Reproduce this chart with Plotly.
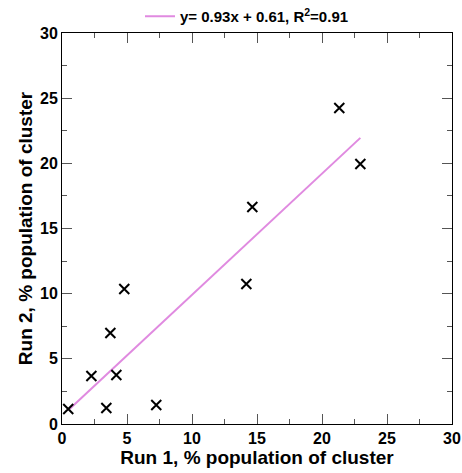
import plotly.graph_objects as go

run1 = [0.48, 2.26, 3.41, 3.72, 4.18, 4.79, 7.25, 14.18, 14.64, 21.33, 22.95]
run2 = [1.15, 3.68, 1.23, 6.98, 3.76, 10.36, 1.46, 10.74, 16.65, 24.25, 19.95]
slope, intercept = 0.93, 0.61
fit_label = "y= 0.93x + 0.61, R<sup>2</sup>=0.91"

fit_x = [min(run1), max(run1)]
fit_y = [slope * v + intercept for v in fit_x]

font = "Liberation Sans, Arial, Helvetica, sans-serif"

fig = go.Figure()
fig.add_trace(go.Scatter(x=fit_x, y=fit_y, mode="lines", name="<b>" + fit_label + "</b>",
                         line=dict(color="#e08ae0", width=2), showlegend=True))
fig.add_trace(go.Scatter(x=run1, y=run2, mode="markers", showlegend=False,
                         marker=dict(symbol="x-thin-open", size=10, color="black",
                                     line=dict(color="black", width=2))))

axis_common = dict(range=[0, 30], dtick=5, ticks="inside", ticklen=10, tickwidth=1,
                   tickcolor="#555", showline=True, linecolor="black", linewidth=1,
                   mirror="ticks", showgrid=False, zeroline=False, automargin=False,
                   tickprefix="<b>", ticksuffix="</b>",
                   tickfont=dict(family=font, size=16, color="black"),
                   minor=dict(dtick=2.5, ticks="inside", ticklen=5, tickcolor="#555", showgrid=False))

fig.update_layout(
    width=462, height=473,
    margin=dict(l=62, r=10, t=33, b=49, autoexpand=False),
    paper_bgcolor="white", plot_bgcolor="white",
    font=dict(family=font, color="black"),
    xaxis=dict(**axis_common,
               title=dict(text="<b>Run 1, % population of cluster</b>", standoff=2,
                          font=dict(family=font, size=19, color="black"))),
    yaxis=dict(**axis_common,
               title=dict(text="<b>Run 2, % population of cluster</b>", standoff=2,
                          font=dict(family=font, size=19, color="black"))),
    legend=dict(orientation="h", x=0.2, xanchor="left", y=1.0, yanchor="bottom",
                font=dict(family=font, size=15, color="black"),
                bgcolor="rgba(0,0,0,0)", itemwidth=30),
)

fig.write_html("out.html")
